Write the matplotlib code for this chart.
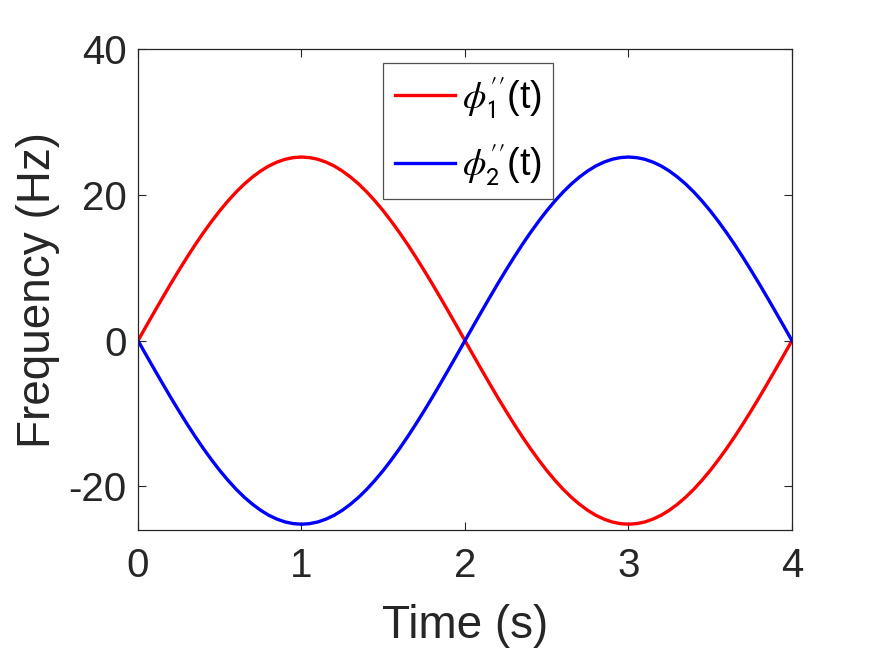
#!/usr/bin/env python3
"""Instantaneous frequency of two chirp components (phi''_1, phi''_2)."""
import matplotlib

matplotlib.use("Agg")
import matplotlib.pyplot as plt

plt.rcParams["font.family"] = ["Liberation Sans", "DejaVu Sans"]
plt.rcParams["mathtext.fontset"] = "stix"

# time samples (s), every 0.05 s
TIME = [0.00, 0.05, 0.10, 0.15, 0.20, 0.25, 0.30, 0.35, 0.40, 0.45,
        0.50, 0.55, 0.60, 0.65, 0.70, 0.75, 0.80, 0.85, 0.90, 0.95,
        1.00, 1.05, 1.10, 1.15, 1.20, 1.25, 1.30, 1.35, 1.40, 1.45,
        1.50, 1.55, 1.60, 1.65, 1.70, 1.75, 1.80, 1.85, 1.90, 1.95,
        2.00, 2.05, 2.10, 2.15, 2.20, 2.25, 2.30, 2.35, 2.40, 2.45,
        2.50, 2.55, 2.60, 2.65, 2.70, 2.75, 2.80, 2.85, 2.90, 2.95,
        3.00, 3.05, 3.10, 3.15, 3.20, 3.25, 3.30, 3.35, 3.40, 3.45,
        3.50, 3.55, 3.60, 3.65, 3.70, 3.75, 3.80, 3.85, 3.90, 3.95, 4.00]

# phi''_1(t) in Hz
FREQ_1 = [0.0, 1.98, 3.94, 5.88, 7.79, 9.64, 11.44, 13.17, 14.81, 16.36,
          17.82, 19.16, 20.39, 21.49, 22.45, 23.28, 23.97, 24.50, 24.89, 25.12,
          25.2, 25.12, 24.89, 24.50, 23.97, 23.28, 22.45, 21.49, 20.39, 19.16,
          17.82, 16.36, 14.81, 13.17, 11.44, 9.64, 7.79, 5.88, 3.94, 1.98,
          0.0, -1.98, -3.94, -5.88, -7.79, -9.64, -11.44, -13.17, -14.81, -16.36,
          -17.82, -19.16, -20.39, -21.49, -22.45, -23.28, -23.97, -24.50, -24.89, -25.12,
          -25.2, -25.12, -24.89, -24.50, -23.97, -23.28, -22.45, -21.49, -20.39, -19.16,
          -17.82, -16.36, -14.81, -13.17, -11.44, -9.64, -7.79, -5.88, -3.94, -1.98, 0.0]

# phi''_2(t) in Hz
FREQ_2 = [0.0, -1.98, -3.94, -5.88, -7.79, -9.64, -11.44, -13.17, -14.81, -16.36,
          -17.82, -19.16, -20.39, -21.49, -22.45, -23.28, -23.97, -24.50, -24.89, -25.12,
          -25.2, -25.12, -24.89, -24.50, -23.97, -23.28, -22.45, -21.49, -20.39, -19.16,
          -17.82, -16.36, -14.81, -13.17, -11.44, -9.64, -7.79, -5.88, -3.94, -1.98,
          0.0, 1.98, 3.94, 5.88, 7.79, 9.64, 11.44, 13.17, 14.81, 16.36,
          17.82, 19.16, 20.39, 21.49, 22.45, 23.28, 23.97, 24.50, 24.89, 25.12,
          25.2, 25.12, 24.89, 24.50, 23.97, 23.28, 22.45, 21.49, 20.39, 19.16,
          17.82, 16.36, 14.81, 13.17, 11.44, 9.64, 7.79, 5.88, 3.94, 1.98, 0.0]

X_TICKS = [0, 1, 2, 3, 4]
Y_TICKS = [-20, 0, 20, 40]

fig = plt.figure(figsize=(8.75, 6.56), dpi=100)
ax = fig.add_axes([0.1577, 0.192, 0.7474, 0.733])

ax.plot(TIME, FREQ_1, color="#FF0000", lw=2.4,
        label=r"$\phi^{\prime\prime}_{\mathsf{1}}$(t)")
ax.plot(TIME, FREQ_2, color="#0000FF", lw=2.4,
        label=r"$\phi^{\prime\prime}_{\mathsf{2}}$(t)")

ax.set_xlim(0, 4)
ax.set_ylim(-26, 40)
ax.set_xticks(X_TICKS)
ax.set_yticks(Y_TICKS)
ax.set_yticklabels([str(v) for v in Y_TICKS])
ax.tick_params(direction="in", length=6, width=0.8, labelsize=29,
               colors="#262626", top=True, right=True, pad=8)
ax.tick_params(axis="x", pad=12)
for sp in ax.spines.values():
    sp.set_linewidth(0.9)
    sp.set_color("#262626")

ax.set_xlabel("Time (s)", fontsize=33, color="#262626", labelpad=14)
ax.set_ylabel("Frequency (Hz)", fontsize=33, color="#262626", labelpad=6)

leg = ax.legend(loc="upper center", bbox_to_anchor=(0.505, 0.995), fontsize=27,
                frameon=True, fancybox=False, edgecolor="#262626",
                handlelength=1.6, handletextpad=0.2, borderpad=0.3,
                labelspacing=0.55, borderaxespad=0.3)
leg.get_frame().set_linewidth(0.9)

fig.savefig("out.png", dpi=100)
